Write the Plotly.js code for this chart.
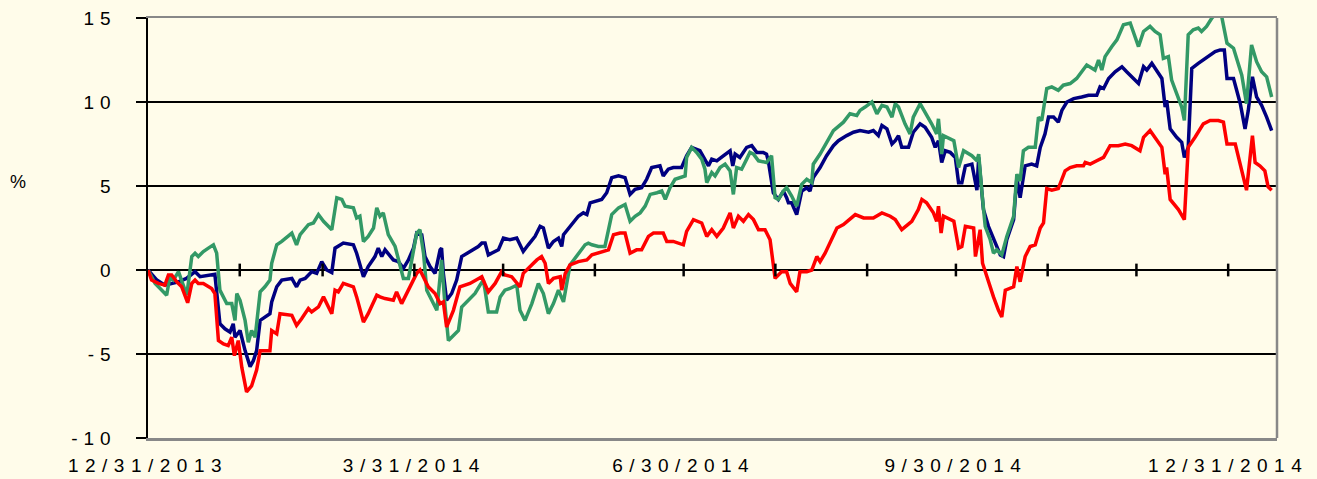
<!DOCTYPE html>
<html>
<head>
<meta charset="utf-8">
<script src="https://cdn.plot.ly/plotly-3.0.1.min.js"></script>
<style>
  html, body { margin: 0; padding: 0; background: #FFFCEA; }
  #chart { width: 1317px; height: 479px; }
  .ytick text { letter-spacing: 6px; }
  .xtick text { letter-spacing: 6.5px; }
</style>
</head>
<body>
<div id="chart"></div>
<script>
// Start date of the series (day offsets are counted from it)
const startDate = '2013-12-31';

// Quarter tick labels on the x axis
const quarterDates = ['2013-12-31', '2014-03-31', '2014-06-30', '2014-09-30', '2014-12-31'];
const quarterLabels = ['12/31/2013', '3/31/2014', '6/30/2014', '9/30/2014', '12/31/2014'];
// Month-end tick marks drawn on the zero line
const monthEnds = ['2014-01-31', '2014-02-28', '2014-03-31', '2014-04-30', '2014-05-31', '2014-06-30',
                   '2014-07-31', '2014-08-31', '2014-09-30', '2014-10-31', '2014-11-30', '2014-12-31'];

const yTickVals = [-10, -5, 0, 5, 10, 15];
const yTickText = ['-10', '-5', '0', '5', '10', '15'];

// Navy series (days since 12/31/2013, % return)
const blueDays = [0,3,5.7,10.3,13,15.9,17.6,21.5,22.6,24.3,26,27.7,28.8,29.4,31.1,32.8,34.5,35.6,36.7,37.9,
  39.5,41.2,41.8,43.5,45.2,48.6,50.2,51.4,53.1,55.3,57,58.7,60.4,62.1,63.2,66,69.4,70.5,72.8,74.4,
  76.7,77.8,79,80.1,82.9,84.6,86.3,88,89.7,90.8,92.5,93.6,95.3,97,98.7,99.2,99.8,100.9,102.6,104.3,
  106,108.8,111.6,112.8,113.9,115,117.3,118.4,120.1,122.3,124.6,
  125.7,126.8,128.5,130.8,132.5,133.6,135.3,137,138.7,139.8,140.4,143.2,145.4,147.1,148.3,149.4,151.1,153.3,155,156.7,
  159,161.2,162.9,164.6,166.8,168.5,170.2,173,174.1,175.8,177.5,180.3,182,183.7,186.5,188.2,189.4,190.5,192.2,194.4,
  196.7,197.6,198.4,200,202.3,204,205.7,207.9,209,209.6,210.7,211.3,213,214.7,215.8,216.4,217.5,219.2,220.9,222.6,
  223.7,224.8,227.1,229.3,231.6,233.3,236.1,238.4,240.6,243.5,245.1,246.8,248,249.7,251.4,
  252.5,253.6,254.7,257,258.6,260.9,262.6,264.8,266,267.1,268.2,269.4,271.1,272.8,273.9,275,276.2,278.4,280.1,280.7,
  282.3,284,286.3,288,289.1,290.2,292.5,293.6,294.7,296.4,298.6,300.3,301.5,303.1,304.3,306,307.6,308.8,310.5,312.8,
  315.5,317.8,320.6,321.7,322.9,324.6,326.8,329.1,330.7,333,334.7,336.4,337.5,339.2,340.9,342.6,343.7,344.2,345.4,347.6,
  349.3,350.2,351.5,352.7,354.9,357.2,358.9,360.6,362.3,363.7,364.6,366.8,369.1,370.7,371.8,373.2,374.6,376.3,378,379.7];
const blueVals = [0,-0.6,-0.9,-0.7,-0.5,-0.1,-0.4,-0.25,-0.25,-3.2,-3.5,-3.7,-3.2,-4.0,-3.6,-4.8,-5.75,-5.4,-4.8,-3.0,
  -2.8,-2.6,-1.9,-1.0,-0.6,-0.5,-1.0,-0.6,-0.5,-0.1,-0.2,0.5,0,-0.15,1.3,1.6,1.5,1.0,-0.4,0.2,
  0.8,1.3,0.8,1.2,0.6,0.5,0.1,0.6,1.3,2.2,2.1,0.8,0.2,-0.2,1.2,1.3,-0.2,-1.8,-1.4,-0.6,
  0.8,1.1,1.4,1.6,1.6,0.9,1.1,1.2,1.9,1.8,1.9,
  1.5,1.1,1.5,2.0,2.6,2.5,1.3,1.7,1.9,1.4,2.1,2.7,3.2,3.4,3.3,4.0,4.1,4.2,4.6,5.5,
  5.6,5.5,4.5,4.8,4.9,5.4,6.1,6.2,5.6,6.0,6.1,6.1,6.8,7.3,7.1,6.6,6.2,6.6,6.5,6.8,
  7.1,6.2,6.9,6.7,7.3,7.4,7.0,7.0,6.9,6.5,5.4,4.6,4.2,4.7,4.3,4.0,4.0,3.3,4.7,4.9,
  4.7,5.5,6.1,6.8,7.4,7.7,8.0,8.2,8.3,8.2,8.3,8.0,8.6,8.4,7.5,
  7.7,8.0,7.3,7.3,8.2,8.7,8.5,7.9,7.3,7.7,6.4,7.1,7.0,6.7,5.2,5.2,6.2,6.3,4.75,6.7,
  3.6,2.6,1.6,0.9,0.8,1.8,3.0,5.5,4.3,6.2,6.3,6.2,7.3,8.1,9.1,9.1,8.8,9.5,10.0,10.2,
  10.3,10.4,10.4,10.9,10.8,11.4,11.8,12.1,11.8,11.4,11.1,12.1,11.9,12.3,11.8,11.4,9.7,10.1,8.4,7.9,
  7.6,6.7,7.3,12.0,12.3,12.6,12.8,13.0,13.1,13.1,11.4,11.4,9.9,8.4,9.5,11.5,10.3,9.8,9.1,8.3];

// Green series
const greenDays = [0,2.4,4.1,6.3,7.4,8.6,10.3,11.4,13.1,14.8,15.9,17,18.7,20.4,22.1,23.2,24.3,26.6,28.3,29.4,
  30,31.1,32.8,33.9,35,36.2,37.9,39.5,41.2,41.8,43.5,45.2,48.6,50.2,51.4,54.2,55.9,57.6,59.3,62.1,
  63.8,65.5,66.6,69.4,70.5,71.6,72.8,74.4,76.2,77.3,78.4,79.5,81.2,83.5,85.2,86.3,88,89.7,90.8,91.9,
  93.1,94.2,95.9,97.6,98.7,99.2,100.4,101.5,103.2,104.9,106,108.3,110.5,112.2,113.3,113.9,115,117.8,119,120.6,
  122.3,124.6,125.7,127.4,
  129.7,131.9,133.6,135.3,137,138.7,140.4,142.6,145.4,147.7,148.8,150,152.2,154.4,156.7,159,161.2,162.9,164.6,166.3,
  168,169.7,172,173.6,174.8,176.4,178.1,179.8,181.5,182,183.7,185.4,187.1,188.2,188.8,190.5,191.6,193.3,195,196.7,
  197.8,198.9,200.6,202.3,203.4,204.6,206.3,209,210.7,211.9,213,214.7,215.8,217.5,219.2,220.9,222.6,224.3,224.8,227.1,
  229.3,231.6,235,237.2,239.5,240.6,242.3,244.6,246.3,248,249.7,251.4,
  252.5,253.6,254.7,255.8,257.5,258.6,260.9,262.6,264.8,266.5,267.1,268.2,268.8,272.3,273.9,275.6,278.4,280.1,280.7,281.8,
  282.9,284.6,285.7,286.8,288.5,290.2,292.5,293.6,294.7,295.8,297.5,299.8,300.9,302,303.7,305.4,307.6,309.3,311.6,313.8,
  317.2,320,321.2,322.3,323.4,325.7,327.4,329.6,331.9,334.7,336.4,338.6,340.3,342,343.1,344.8,345.9,347.6,349.3,350.2,
  351.5,353.2,354.9,356,357.7,359.5,360.6,362.8,364.6,366.8,369.6,371.2,372.9,374.6,376.3,378,379.7];
const greenVals = [0,-0.8,-1.1,-1.5,-0.4,-0.6,-0.1,-0.6,-1.5,0.8,1.0,0.8,1.1,1.3,1.5,1.0,-1.2,-2.0,-2.0,-3.0,
  -1.4,-1.8,-3.0,-4.3,-3.6,-4.0,-1.3,-1.0,-0.6,0.4,1.5,1.7,2.2,1.5,2.1,2.7,2.8,3.3,2.9,2.4,
  4.3,4.2,3.8,3.7,3.1,3.2,1.7,2.0,2.5,3.7,3.2,3.4,2.1,1.4,0.2,-0.5,-0.5,1.0,2.2,2.4,
  1.0,-1.2,-1.8,-2.4,-0.4,0.6,-2.2,-4.2,-3.9,-3.6,-2.2,-1.8,-1.4,-0.9,-0.6,-1.2,-2.5,-2.5,-1.6,-1.2,
  -1.1,-0.9,-2.4,-3.0,
  -2.0,-0.8,-1.4,-2.6,-2.0,-1.2,-1.9,0.3,1.0,1.5,1.6,1.5,1.4,1.4,3.3,3.7,3.9,2.9,3.2,3.4,
  3.8,4.5,4.6,4.7,4.2,4.9,5.4,5.5,5.6,6.7,7.3,7.0,6.6,6.0,5.2,5.8,5.6,6.1,6.3,5.9,
  4.5,6.1,6.0,6.6,7.0,6.9,6.5,6.4,6.8,4.3,4.2,4.7,4.9,4.4,3.8,5.1,5.4,5.2,6.3,6.9,
  7.6,8.3,8.8,9.3,9.2,9.5,9.7,10.0,9.3,9.8,9.7,9.1,
  9.9,9.7,9.2,8.7,8.1,9.1,9.9,9.4,8.7,8.1,9.0,6.9,8.0,7.7,6.1,7.1,6.8,6.5,6.9,4.6,
  2.6,1.8,1.0,1.2,0.9,2.0,3.2,5.7,5.3,7.1,7.3,7.3,9.1,8.9,10.8,10.9,10.7,11.0,11.1,11.4,
  12.2,11.9,12.5,11.9,12.7,13.3,13.7,14.6,14.7,13.3,14.2,14.5,14.2,14.0,12.6,12.7,11.3,10.5,9.7,8.9,
  14.0,14.3,14.4,14.2,14.5,15.0,15.2,15.1,13.5,13.2,11.6,9.9,13.4,12.4,11.8,11.5,10.3];

// Red series
const redDays = [0,1.2,3.5,5.7,6.9,8,9.7,11.4,13.4,14.8,15.9,17,18.7,21.5,22.6,23.8,25.5,27.1,28.3,29.2,
  30.5,31.7,33.3,35,36.7,37.9,41.2,41.8,43.5,44.6,48.6,50.2,51.9,54.2,55.3,57.6,59.3,62.1,63.2,64.3,
  66,67.7,69.4,70.5,72.8,74.4,77.3,78.4,80.1,82.9,84,85.7,87.4,89.1,90.8,91.9,93.1,94.7,97,98.7,
  99.8,100.9,103.2,105.4,108.8,111.6,112.8,115,117.3,119.5,120.6,122.9,
  125.7,126.8,129.1,131.4,133,134.2,135.3,137,139.3,139.8,141,142.6,145.4,148.3,150,152.2,154.4,155.6,157.3,159.5,
  161.2,162.9,165.1,166.8,169.1,170.8,174.1,175.3,177.5,180.9,182,184.3,187.1,188.8,190.5,192.2,194.4,196.7,197.8,199.5,
  201.2,202.9,204.6,206.3,208.5,210.2,211.9,214.1,215.8,217,219.2,220.3,222.6,224.3,226,227.1,228.8,231.1,232.8,235,
  239,241.8,245.1,248,250.8,
  252.5,254.7,258.1,260.3,261.5,263.1,265.4,266.5,267.1,268,268.8,272.3,273.9,275,276.2,279,279.6,281.2,282,283.4,
  285.7,287.4,288.5,289.7,292.5,293.6,294.7,296.4,298.1,299.8,301.5,302.6,303.7,305.4,307.6,309.9,311.6,313.8,316.1,316.7,
  318.4,320.6,322.9,325.1,327.9,330.2,332.4,335.2,336.4,338.6,340.3,342.6,343.7,344.2,345.4,348.2,350.2,351.5,353.8,356.6,
  358.9,361.7,363.4,364.6,367.4,369.1,371.2,373.2,374.1,375.7,377.4,378.5,379.7];
const redVals = [0,-0.6,-0.8,-0.9,-0.3,-0.3,-0.7,-1.0,-1.95,-0.8,-0.6,-0.8,-0.8,-1.1,-1.4,-4.2,-4.4,-4.5,-4.0,-5.1,
  -4.2,-5.8,-7.25,-6.9,-5.95,-4.8,-4.8,-3.6,-3.8,-2.6,-2.7,-3.3,-2.9,-2.3,-2.5,-2.2,-1.6,-2.6,-1.2,-1.3,
  -0.8,-0.9,-1.0,-1.6,-3.1,-2.6,-1.5,-1.6,-1.7,-1.8,-1.3,-2.0,-1.4,-0.8,-0.2,0,-0.4,-1.0,-1.4,-2.0,
  -1.9,-3.4,-2.4,-1.0,-0.8,-0.5,-0.4,-1.3,-0.8,-0.1,-0.3,-0.4,
  -1.0,-0.2,0.2,0.6,0.8,0.4,-0.8,-0.5,-0.4,-1.2,-0.2,0.3,0.5,0.6,0.9,1.0,1.1,1.2,2.1,2.2,
  2.2,1.0,1.2,1.2,2.0,2.2,2.2,1.7,1.7,1.5,2.3,3.0,2.8,2.0,2.4,2.0,2.5,3.4,2.5,3.2,
  2.9,3.3,3.0,2.4,2.4,1.8,-0.5,-0.1,-0.1,-0.8,-1.3,-0.1,-0.1,0,0.8,0.5,1.0,1.8,2.5,2.7,
  3.3,3.1,3.1,3.4,3.2,
  3.0,2.4,2.9,3.6,4.2,4.0,3.4,2.9,3.8,2.2,3.2,2.9,1.3,1.4,2.6,2.5,0.8,2.4,0.4,-0.4,
  -1.6,-2.4,-2.8,-1.2,-1.0,0.2,-0.7,0.8,1.4,1.5,2.5,2.8,4.85,4.75,4.85,5.9,6.1,6.2,6.2,6.4,
  6.3,6.5,6.7,7.4,7.4,7.5,7.4,7.1,7.9,8.3,7.9,7.3,5.7,6.1,4.2,3.6,3.0,7.3,7.9,8.7,
  8.9,8.9,8.8,7.5,7.5,6.3,4.75,8.0,6.4,6.2,5.9,4.95,4.75];

const DAY_MS = 86400000;
const t0 = Date.parse(startDate + 'T00:00:00Z');
const toDate = d => new Date(t0 + d * DAY_MS).toISOString();

function lineTrace(days, vals, color) {
  return {
    type: 'scatter', mode: 'lines',
    x: days.map(toDate), y: vals,
    line: { color: color, width: 3.5 },
    hoverinfo: 'skip', showlegend: false
  };
}

const data = [
  lineTrace(blueDays, blueVals, '#000080'),
  lineTrace(greenDays, greenVals, '#339966'),
  lineTrace(redDays, redVals, '#FF0000')
];

const shapes = monthEnds.map(d => ({
  type: 'line', xref: 'x', yref: 'y',
  x0: d, x1: d, y0: -0.38, y1: 0.38,
  line: { color: '#000000', width: 2.5 }
}));
// right border of the plot frame
shapes.push({
  type: 'line', xref: 'paper', yref: 'paper', x0: 1, x1: 1, y0: 0, y1: 1,
  line: { color: '#888888', width: 2.5 }, layer: 'above'
});

const layout = {
  width: 1317, height: 479,
  margin: { l: 148, r: 40, t: 18, b: 41 },
  paper_bgcolor: '#FFFCEA', plot_bgcolor: '#FFFCEA',
  font: { family: 'Liberation Sans, Arial, sans-serif', size: 18, color: '#000000' },
  showlegend: false,
  xaxis: {
    type: 'date',
    range: [startDate, toDate(381.5)],
    tickmode: 'array', tickvals: quarterDates, ticktext: quarterLabels,
    ticks: '', showgrid: false, zeroline: false,
    showline: true, linecolor: '#888888', linewidth: 2.5, mirror: true,
    tickfont: { size: 19 },
    ticklabelstandoff: 9
  },
  yaxis: {
    range: [-10, 15],
    tickmode: 'array', tickvals: yTickVals, ticktext: yTickText,
    ticks: 'outside', ticklen: 10, tickwidth: 2, tickcolor: '#000000',
    showgrid: true, gridcolor: '#000000', gridwidth: 1.6,
    zeroline: true, zerolinecolor: '#000000', zerolinewidth: 1.6,
    showline: true, linecolor: '#000000', linewidth: 2.5,
    tickfont: { size: 19 },
    ticklabelstandoff: 15
  },
  shapes: shapes,
  annotations: [{
    text: '%', xref: 'paper', yref: 'paper',
    x: -0.1151, y: 0.6095, xanchor: 'center', yanchor: 'middle',
    showarrow: false, font: { size: 18, color: '#000000' }
  }]
};

Plotly.newPlot('chart', data, layout, { displayModeBar: false, staticPlot: true });
</script>
</body>
</html>
